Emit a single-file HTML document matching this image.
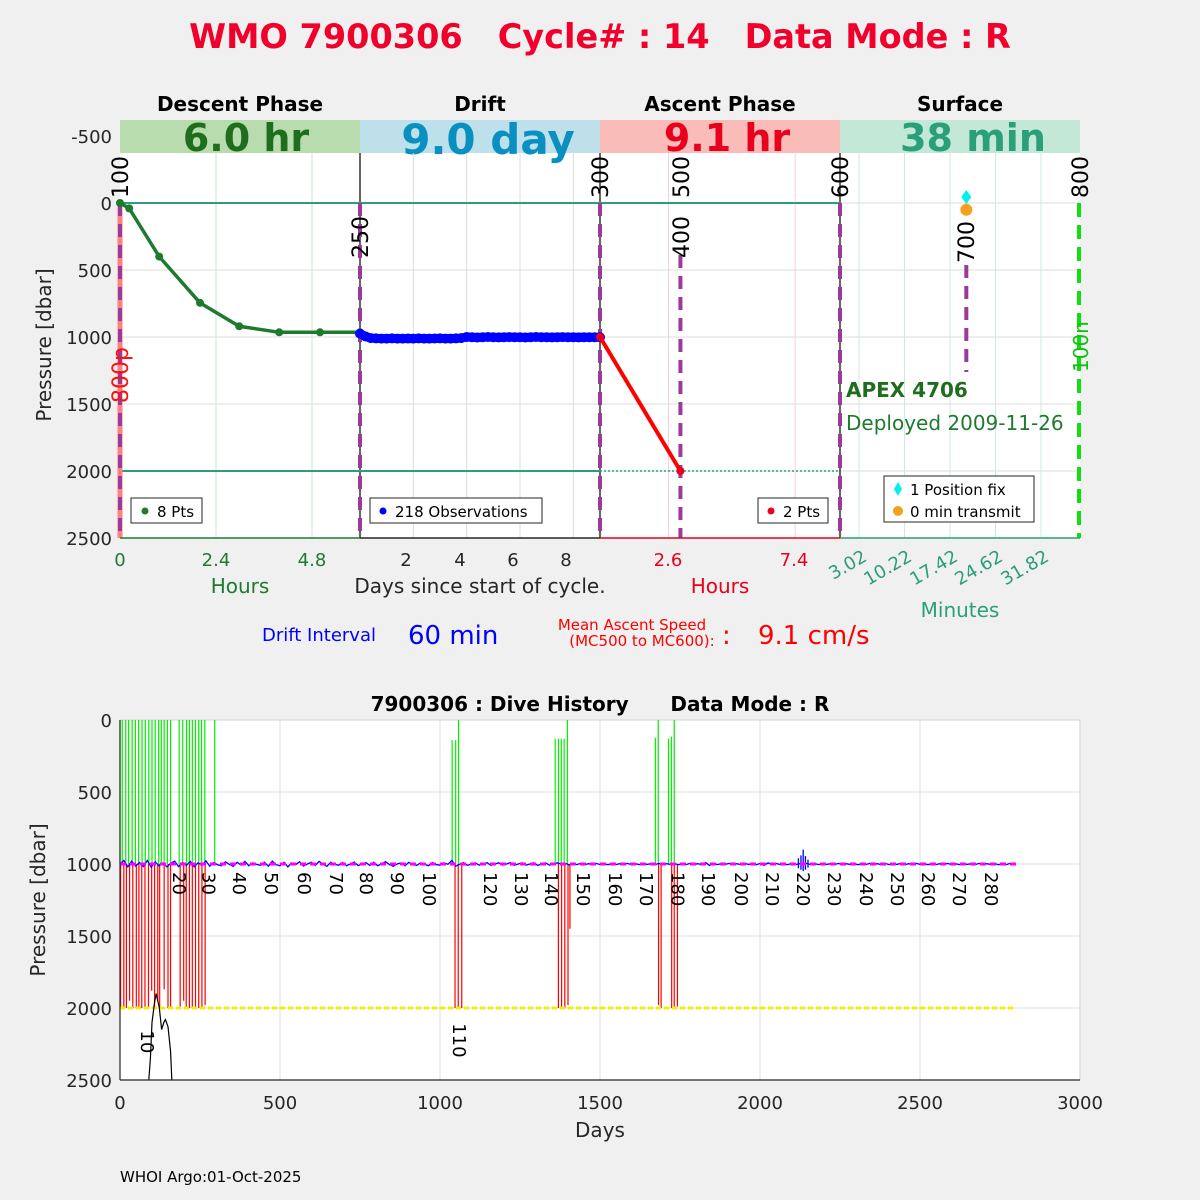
<!DOCTYPE html>
<html><head><meta charset="utf-8"><style>
html,body{margin:0;padding:0;background:#f0f0f0;}
svg{display:block;font-family:"DejaVu Sans","Liberation Sans",sans-serif;}
</style></head><body>
<svg id="chart" width="1200" height="1200" viewBox="0 0 1200 1200" xmlns="http://www.w3.org/2000/svg">
<rect x="0" y="0" width="1200" height="1200" fill="#f0f0f0"/>
<text x="600" y="48" text-anchor="middle" font-size="33.5" font-weight="bold" fill="#f0002a" xml:space="preserve">WMO 7900306   Cycle# : 14   Data Mode : R</text>

<rect x="120" y="120" width="960" height="418" fill="#ffffff"/>
<g font-weight="bold" text-anchor="middle">
<text x="240" y="111" font-size="20" fill="#000">Descent Phase</text>
<text x="480" y="111" font-size="20" fill="#000">Drift</text>
<text x="720" y="111" font-size="20" fill="#000">Ascent Phase</text>
<text x="960" y="111" font-size="20" fill="#000">Surface</text>
<rect x="120" y="120" width="240" height="33" fill="#b9dcae"/>
<rect x="360" y="120" width="240" height="33" fill="#bde0ea"/>
<rect x="600" y="120" width="240" height="33" fill="#f9bcb8"/>
<rect x="840" y="120" width="240" height="33" fill="#c4e8d8"/>
<text x="246" y="151" font-size="38" fill="#1e6e1e">6.0 hr</text>
<text x="488" y="154" font-size="42" fill="#0a90c0">9.0 day</text>
<text x="727" y="151" font-size="38" fill="#e8001c">9.1 hr</text>
<text x="973" y="151" font-size="38" fill="#2aa07a">38 min</text>
</g>

<g id="topGrid"></g>
<g id="topMarks"></g>

<g font-size="18" fill="#262626" text-anchor="end">
<text x="112" y="143">-500</text><text x="112" y="210">0</text><text x="112" y="277">500</text>
<text x="112" y="344">1000</text><text x="112" y="411">1500</text><text x="112" y="478">2000</text><text x="112" y="545">2500</text>
</g>
<text transform="translate(51,345) rotate(-90)" text-anchor="middle" font-size="20" fill="#262626">Pressure [dbar]</text>

<g font-size="18" text-anchor="middle">
<line x1="120" y1="538" x2="360" y2="538" stroke="#1e7a2e" stroke-width="1.5"/>
<line x1="360" y1="538" x2="600" y2="538" stroke="#262626" stroke-width="1.5"/>
<line x1="600" y1="538" x2="840" y2="538" stroke="#e8001c" stroke-width="1.5"/>
<line x1="840" y1="538" x2="1080" y2="538" stroke="#2a9d7c" stroke-width="1.5"/>
<text x="120" y="566" fill="#1e7a2e">0</text><text x="216" y="566" fill="#1e7a2e">2.4</text><text x="312" y="566" fill="#1e7a2e">4.8</text>
<text x="406" y="566" fill="#262626">2</text><text x="460" y="566" fill="#262626">4</text><text x="513" y="566" fill="#262626">6</text><text x="566" y="566" fill="#262626">8</text>
<text x="668" y="566" fill="#e8001c">2.6</text><text x="794" y="566" fill="#e8001c">7.4</text>
<g fill="#2a9d7c" text-anchor="end">
<text transform="translate(868,560) rotate(-30)">3.02</text>
<text transform="translate(913,560) rotate(-30)">10.22</text>
<text transform="translate(959,560) rotate(-30)">17.42</text>
<text transform="translate(1004,560) rotate(-30)">24.62</text>
<text transform="translate(1050,560) rotate(-30)">31.82</text>
</g>
<text x="240" y="593" font-size="20" fill="#1e7a2e">Hours</text>
<text x="480" y="593" font-size="20" fill="#262626">Days since start of cycle.</text>
<text x="720" y="593" font-size="20" fill="#e8001c">Hours</text>
<text x="960" y="617" font-size="20" fill="#2aa07a">Minutes</text>
</g>

<g font-size="22" fill="#000">
<text transform="translate(128,198) rotate(-90)">100</text>
<text transform="translate(368,258) rotate(-90)">250</text>
<text transform="translate(608,198) rotate(-90)">300</text>
<text transform="translate(689,198) rotate(-90)">500</text>
<text transform="translate(689,258) rotate(-90)">400</text>
<text transform="translate(848,198) rotate(-90)">600</text>
<text transform="translate(974,263) rotate(-90)">700</text>
<text transform="translate(1088,198) rotate(-90)">800</text>
<text transform="translate(128,403) rotate(-90)" fill="#ff1010">800p</text>
<text transform="translate(1088,372) rotate(-90)" fill="#10c010" font-size="20">100n</text>
</g>

<text x="846" y="397" font-size="20" font-weight="bold" fill="#1e6e1e">APEX 4706</text>
<text x="846" y="430" font-size="20" fill="#1e7a2e">Deployed 2009-11-26</text>

<g>
<rect x="131" y="498" width="71" height="25" fill="#fff" stroke="#262626"/>
<circle cx="145" cy="511" r="3.5" fill="#1e7a2e"/><text x="157" y="517" font-size="15" fill="#000">8 Pts</text>
</g>
<g>
<rect x="370" y="498" width="172" height="25" fill="#fff" stroke="#262626"/>
<circle cx="383" cy="511" r="3.5" fill="#0000ff"/><text x="395" y="517" font-size="15" fill="#000">218 Observations</text>
</g>
<g>
<rect x="758" y="498" width="70" height="25" fill="#fff" stroke="#262626"/>
<circle cx="771" cy="511" r="3.5" fill="#e8001c"/><text x="783" y="517" font-size="15" fill="#000">2 Pts</text>
</g>
<g>
<rect x="884" y="476" width="150" height="46" fill="#fff" stroke="#262626"/>
<polygon points="898,482 902,489 898,496 894,489" fill="#00f0f0"/><text x="910" y="495" font-size="15" fill="#000">1 Position fix</text>
<circle cx="898" cy="511" r="5" fill="#f5a020"/><text x="910" y="517" font-size="15" fill="#000">0 min transmit</text>
</g>

<g>
<text x="262" y="641" font-size="18" fill="#0000ff">Drift Interval</text>
<text x="408" y="644" font-size="26" fill="#0000ff">60 min</text>
</g>
<g fill="#ff0000">
<text x="632" y="630" font-size="15" text-anchor="middle">Mean Ascent Speed</text>
<text x="642" y="646" font-size="15" text-anchor="middle">(MC500 to MC600):</text>
<text x="722" y="644" font-size="26">:</text>
<text x="758" y="644" font-size="26">9.1 cm/s</text>
</g>

<text x="600" y="711" text-anchor="middle" font-size="20" font-weight="bold" fill="#000" xml:space="preserve">7900306 : Dive History      Data Mode : R</text>
<rect x="120" y="720" width="960" height="360" fill="#ffffff" stroke="#d0d0d0"/>
<g id="botGrid"></g>
<g id="botMarks"></g>
<line x1="120" y1="720" x2="120" y2="1080" stroke="#262626" stroke-width="1.2"/>
<line x1="120" y1="1080" x2="1080" y2="1080" stroke="#262626" stroke-width="1.2"/>
<g id="botAxes" font-size="18" fill="#262626"></g>
<text transform="translate(45,900) rotate(-90)" text-anchor="middle" font-size="20" fill="#262626">Pressure [dbar]</text>
<text x="600" y="1137" text-anchor="middle" font-size="20" fill="#262626">Days</text>
<text x="120" y="1182" font-size="15" fill="#000">WHOI Argo:01-Oct-2025</text>
</svg>
<script>
// ---------- TOP CHART DATA ----------
const descentHours = [0, 0.23, 0.98, 2.0, 2.98, 3.98, 5.0, 6.0];
const descentPres = [0, 40, 400, 745, 920, 965, 965, 965];
const driftStepDays = 0.2;
const driftPres = [975,995,1008,1010,1012,1012,1010,1012,1012,1011,1012,1010,1012,1012,1011,1010,1012,1012,1010,1008,1000,1002,1004,1002,1000,1002,1003,1002,1001,1002,1002,1004,1002,1000,1002,1002,1003,1002,1001,1002,1002,1003,1002,1002,1002,1002];
const ascentHours = [0, 3.05];
const ascentPres = [1000, 2000];
const surfFixMin = [20];
const surfFixPres = [-45];
const surfTxMin = [20];
const surfTxPres = [50];

// ---------- BOTTOM CHART DATA ----------
const greenDays = [0,7,18,27,38,48,58,69,79,90,100,110,121,129,138,148,158,185,196,208,217,226,236,246,255,265,296,1038,1049,1058,1360,1370,1379,1388,1398,1673,1682,1714,1723,1732];
const greenTop = [0,0,0,0,0,0,0,0,0,0,0,0,0,0,0,0,0,0,0,0,0,0,0,0,0,0,0,140,140,0,130,130,130,130,0,125,0,130,115,0];
const redDays = [2,12,20,30,40,51,59,68,78,89,99,108,118,124,138,150,158,188,199,207,217,226,236,246,256,266,1047,1057,1068,1370,1380,1390,1400,1406,1683,1691,1724,1732,1742];
const redBottom = [2000,2000,2000,1950,2000,2000,2000,2000,2000,2000,1880,2000,1950,2000,1870,2000,2000,2000,1950,2000,2000,2000,2000,2000,2000,1980,2000,2000,2000,2000,2000,2000,1980,1450,1980,2000,2000,2000,1990];
const blueStepDays = 12.2;
const bluePres = [1000,975,1020,980,1015,990,1018,975,1022,985,1012,992,1020,995,980,1018,990,1010,982,1020,992,1008,978,1016,990,1005,1012,985,1003,1016,988,1008,982,1012,992,1003,1010,988,1016,980,1005,1012,988,1020,992,1004,984,1014,1000,988,1010,982,1002,1016,988,1004,1008,990,1012,1000,986,1011,1000,990,1010,988,1012,1000,984,1004,1016,1000,992,1012,988,1004,1010,992,1002,1012,990,1004,1008,992,1002,975,1015,1002,990,1010,1000,992,1008,1000,990,1010,1000,992,1008,1000,990,1010,1000,992,1008,1000,991,1010,1000,992,1008,1000,992,1000,994,1006,998,1004,996,1005,998,1003,996,1004,998,1005,996,1004,998,1003,996,1005,998,1004,996,1003,998,1005,996,1004,998,1003,996,1005,998,1004,996,1003,998,1005,990,1010,996,1004,998,1003,996,1005,998,1004,996,1003,998,1005,996,1010,992,1004,996,1003,998,1005,996,1004,998,1003,996,1005,998,1004,996,1003,998,1005,996,1004,998,1003,996,1005,998,1004,996,1003,998,1005,996,1004,998,1003,996,1005,998,1004,996,1003,998,1005,996,1004,998,1003,996,1005,998,1004,996,1003,998,1005,996,1004,998,1003,996,1005,998,1004,996,1003];
const spikeDays = [2120,2128,2135,2142,2150];
const spikeTop = [960,940,900,945,970];
const spikeBottom = [1030,1040,1050,1040,1025];
const profileDays = [90,95,100,108,113,118,123,130,137,142,150,158,162];
const profilePres = [2500,2350,2100,1960,1900,1950,2000,2150,2100,2080,2130,2300,2500];
const cycleLabels = [10,20,30,40,50,60,70,80,90,100,110,120,130,140,150,160,170,180,190,200,210,220,230,240,250,260,270,280];
const cycleLabelDays = [88,187,280,375,475,578,678,772,868,968,1063,1160,1257,1350,1450,1550,1647,1745,1841,1944,2040,2137,2234,2334,2431,2528,2625,2725];
const cycleLabelPres = [2100,1000,1000,1000,1000,1000,1000,1000,1000,1000,2050,1000,1000,1000,1000,1000,1000,1000,1000,1000,1000,1000,1000,1000,1000,1000,1000,1000];
const xTicksBottom = [0,500,1000,1500,2000,2500,3000];
const yTicksBottom = [0,500,1000,1500,2000,2500];

const NS = 'http://www.w3.org/2000/svg';
function mk(parent, tag, attrs) {
  const el = document.createElementNS(NS, tag);
  for (const k in attrs) el.setAttribute(k, attrs[k]);
  parent.appendChild(el);
  return el;
}
const yT = p => 203 + p * 0.134;
const xDesc = h => 120 + h * 40;
const xDrift = d => 360 + d * 26.667;
const xAsc = h => 600 + h * 26.37;
const xSurf = m => 840 + m * 6.316;
const xB = d => 120 + d * 0.32;
const yB = p => 720 + p * 0.144;

// ---------- top grid ----------
const tg = document.getElementById('topGrid');
[0,500,1000,1500,2000,2500].forEach(p => {
  const l = mk(tg, 'line', {x1:120, x2:1080, y1:yT(p), y2:yT(p), stroke:'#dcdcdc', 'stroke-width':1});
  
  
});
[2.4,4.8].forEach(h => {
  const l = mk(tg, 'line', {x1:xDesc(h), x2:xDesc(h), y1:153, y2:538, stroke:'#cfe6cf'});
  
  
});
[2,4,6,8].forEach(d => {
  const l = mk(tg, 'line', {x1:xDrift(d), x2:xDrift(d), y1:153, y2:538, stroke:'#dcdcdc'});
  
  
});
[2.6,7.4].forEach(h => {
  const l = mk(tg, 'line', {x1:xAsc(h), x2:xAsc(h), y1:153, y2:538, stroke:'#f8d0d4'});
  
  
});
[3.02,10.22,17.42,24.62,31.82].forEach(m => {
  const l = mk(tg, 'line', {x1:xSurf(m), x2:xSurf(m), y1:153, y2:538, stroke:'#cfe8e0'});
  
  
});
[360,600,840].forEach(x => {
  const l = mk(tg, 'line', {x1:x, x2:x, y1:153, y2:538, stroke:'#000', 'stroke-width':1.2});
  
  
});
let ref = mk(tg, 'line', {x1:120, x2:840, y1:yT(0), y2:yT(0), stroke:'#2a9d7c', 'stroke-width':2});


ref = mk(tg, 'line', {x1:120, x2:600, y1:yT(2000), y2:yT(2000), stroke:'#2a9d7c', 'stroke-width':2});


ref = mk(tg, 'line', {x1:600, x2:840, y1:yT(2000), y2:yT(2000), stroke:'#2a9d7c', 'stroke-width':1.5, 'stroke-dasharray':'2 2'});



// ---------- top marks ----------
const tm = document.getElementById('topMarks');
let sal = mk(tm, 'line', {x1:120, x2:120, y1:203, y2:538, stroke:'#ff8080', 'stroke-width':5});


const dashes = [[120,203,538],[360,203,538],[600,203,538],[840,203,538],[xAsc(ascentHours[1]),255,538],[xSurf(surfTxMin[0]),265,372]];
dashes.forEach(d => {
  const l = mk(tm, 'line', {x1:d[0], x2:d[0], y1:d[1], y2:d[2], stroke:'#9a3a9a', 'stroke-width':4, 'stroke-dasharray':'13 8'});
  
  
});
let gl = mk(tm, 'line', {x1:1079, x2:1079, y1:203, y2:538, stroke:'#10e010', 'stroke-width':4, 'stroke-dasharray':'14 8'});



const descPts = descentHours.map((h,i) => xDesc(h)+','+yT(descentPres[i])).join(' ');
const dl = mk(tm, 'polyline', {points:descPts, fill:'none', stroke:'#1e7a2e', 'stroke-width':3.5});


descentHours.forEach((h,i) => {
  const c = mk(tm, 'circle', {cx:xDesc(h), cy:yT(descentPres[i]), r:4, fill:'#1e7a2e'});
  
  
});
const driftPts = driftPres.map((p,i) => xDrift(i*driftStepDays)+','+yT(p)).join(' ');
const drl = mk(tm, 'polyline', {points:driftPts, fill:'none', stroke:'#0000ff', 'stroke-width':9, 'stroke-linejoin':'round'});


driftPres.forEach((p,i) => {
  const c = mk(tm, 'circle', {cx:xDrift(i*driftStepDays), cy:yT(p), r:5, fill:'#0000ff'});
  
  
});
const al = mk(tm, 'line', {x1:xAsc(ascentHours[0]), y1:yT(ascentPres[0]), x2:xAsc(ascentHours[1]), y2:yT(ascentPres[1]), stroke:'#ff0000', 'stroke-width':4});


ascentHours.forEach((h,i) => {
  const c = mk(tm, 'circle', {cx:xAsc(h), cy:yT(ascentPres[i]), r:4, fill:'#e8001c'});
  
  
});
surfFixMin.forEach((m,i) => {
  const x = xSurf(m), y = yT(surfFixPres[i]);
  const d = mk(tm, 'polygon', {points:`${x},${y-7} ${x+5},${y} ${x},${y+7} ${x-5},${y}`, fill:'#00f0f0'});
  
  
});
surfTxMin.forEach((m,i) => {
  const c = mk(tm, 'circle', {cx:xSurf(m), cy:yT(surfTxPres[i]), r:6, fill:'#f5a020'});
  
  
});

// ---------- bottom grid & axes ----------
const bg = document.getElementById('botGrid');
xTicksBottom.slice(1,-1).forEach(d => {
  const l = mk(bg, 'line', {x1:xB(d), x2:xB(d), y1:720, y2:1080, stroke:'#dcdcdc'});
  
  
});
yTicksBottom.slice(1,-1).forEach(p => {
  const l = mk(bg, 'line', {x1:120, x2:1080, y1:yB(p), y2:yB(p), stroke:'#dcdcdc'});
  
  
});
const ba = document.getElementById('botAxes');
xTicksBottom.forEach(d => {
  const t = mk(ba, 'text', {x:xB(d), y:1109, 'text-anchor':'middle'});
  t.textContent = d;
  
  
});
yTicksBottom.forEach(p => {
  const t = mk(ba, 'text', {x:112, y:yB(p)+7, 'text-anchor':'end'});
  t.textContent = p;
  
  
});

// ---------- bottom marks ----------
const bm = document.getElementById('botMarks');
greenDays.forEach((d,i) => {
  const l = mk(bm, 'line', {x1:xB(d), x2:xB(d), y1:yB(greenTop[i]), y2:yB(1000), stroke:'#00ee00', 'stroke-width':1.2});
  
  
});
redDays.forEach((d,i) => {
  const l = mk(bm, 'line', {x1:xB(d), x2:xB(d), y1:yB(1000), y2:yB(redBottom[i]), stroke:'#ff0000', 'stroke-width':1.2});
  
  
});
const yl = mk(bm, 'line', {x1:xB(0), x2:xB(2800), y1:yB(2000), y2:yB(2000), stroke:'#f0f000', 'stroke-width':3, 'stroke-dasharray':'5 3'});


const bp = bluePres.map((p,i) => xB(i*blueStepDays)+','+yB(p)).join(' ');
const bl = mk(bm, 'polyline', {points:bp, fill:'none', stroke:'#0000ff', 'stroke-width':1.3});


spikeDays.forEach((d,i) => {
  const l = mk(bm, 'line', {x1:xB(d), x2:xB(d), y1:yB(spikeTop[i]), y2:yB(spikeBottom[i]), stroke:'#0000ff', 'stroke-width':1.3});
  
  
});
const ml = mk(bm, 'line', {x1:xB(0), x2:xB(2800), y1:yB(1000), y2:yB(1000), stroke:'#ff00ff', 'stroke-width':3, 'stroke-dasharray':'6 4'});


const pp = profileDays.map((d,i) => xB(d)+','+yB(profilePres[i])).join(' ');
const pl = mk(bm, 'polyline', {points:pp, fill:'none', stroke:'#000', 'stroke-width':1.2});


cycleLabels.forEach((c,i) => {
  const x = xB(cycleLabelDays[i]) - 7, y = yB(cycleLabelPres[i]) + 8;
  const t = mk(bm, 'text', {transform:`translate(${x},${y}) rotate(90)`, 'font-size':18, fill:'#000'});
  t.textContent = c;
  
  
});
</script>
</body></html>
